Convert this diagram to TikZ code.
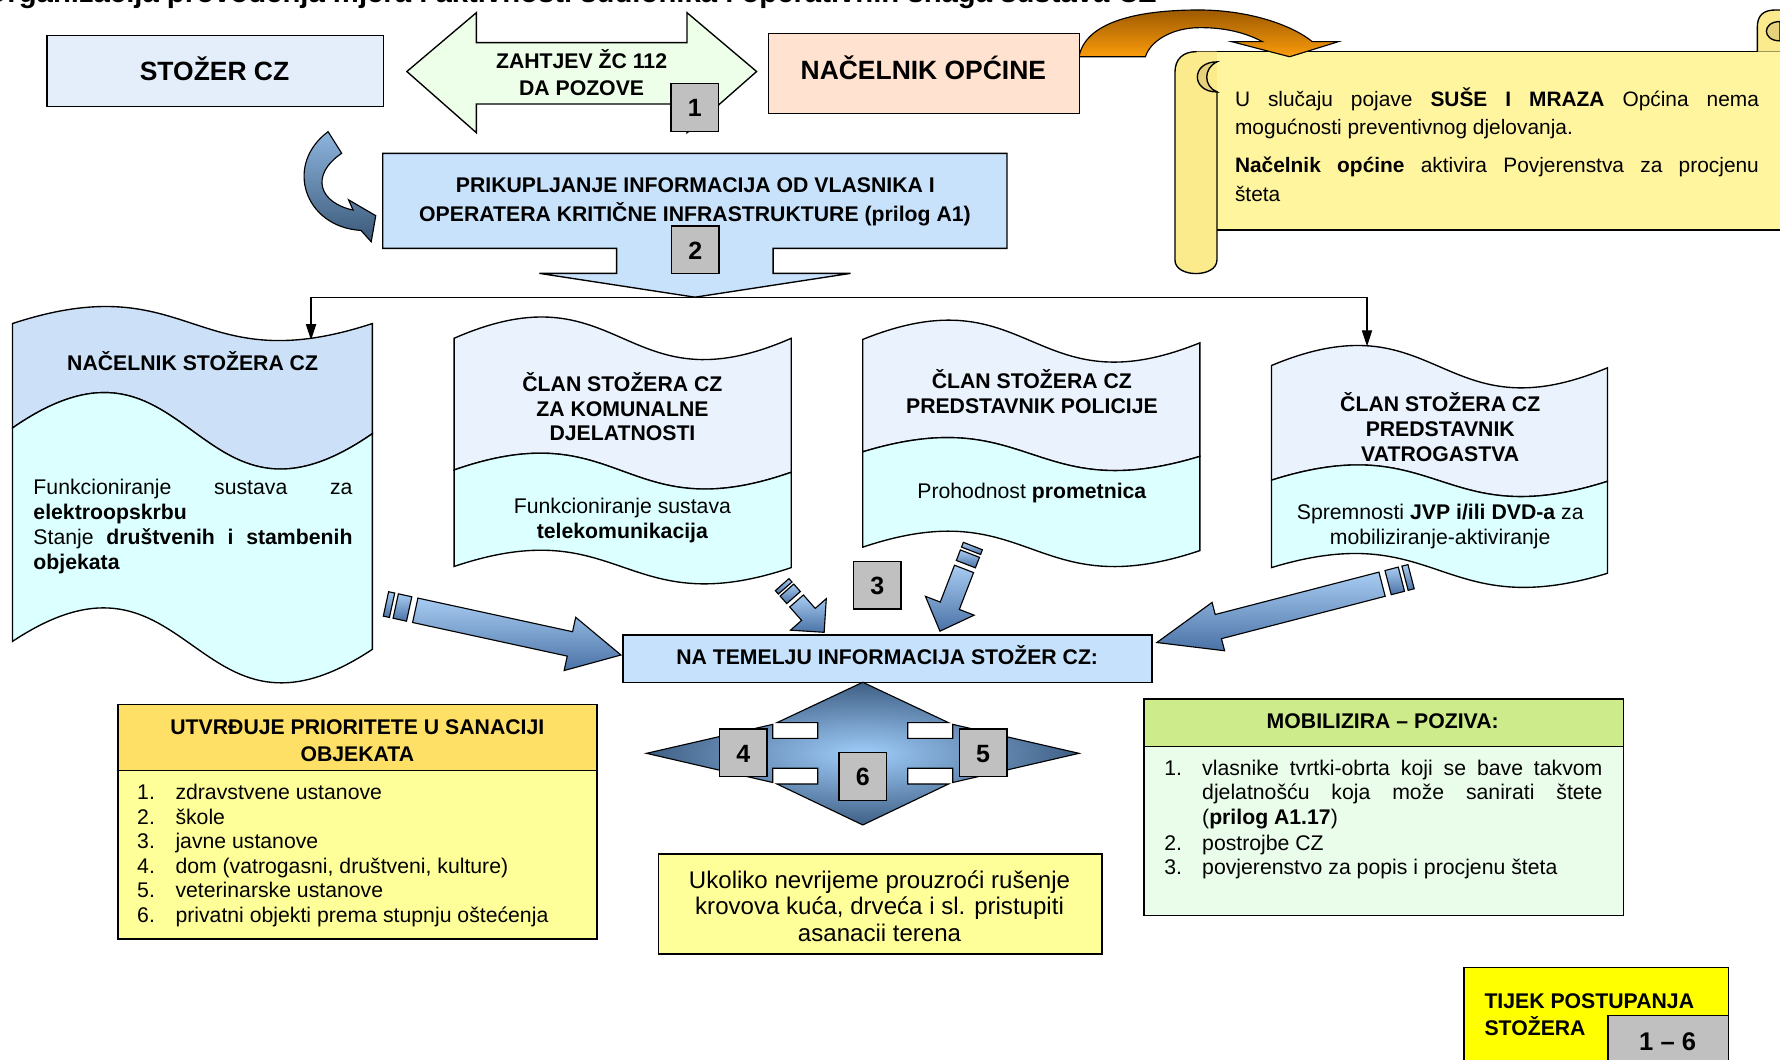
\documentclass[tikz,border=0pt]{standalone}
\usepackage{fontspec}
\setmainfont{Liberation Sans}
\usetikzlibrary{arrows.meta}

\definecolor{stozerbg}{HTML}{E4EEFA}
\definecolor{zahtjevbg}{HTML}{EDFFE8}
\definecolor{nacelnikbg}{HTML}{FFE2D0}
\definecolor{prikbg}{HTML}{C8E2FB}
\definecolor{wavetopA}{HTML}{CCE0F8}
\definecolor{wavetop}{HTML}{E9F2FD}
\definecolor{wavebot}{HTML}{DCFFFF}
\definecolor{numgray}{HTML}{C0C0C0}
\definecolor{temeljbg}{HTML}{C6E1FB}
\definecolor{prioHead}{HTML}{FFE066}
\definecolor{paleyellow}{HTML}{FFFF99}
\definecolor{mobHead}{HTML}{CDEB8B}
\definecolor{mobBody}{HTML}{EAFDEA}
\definecolor{tijekbg}{HTML}{FFFF00}
\definecolor{scrollbg}{HTML}{FFF59E}
\definecolor{scrollroll}{HTML}{FBEB8C}
\definecolor{curlfill}{HTML}{E6D27C}
\definecolor{arrowlight}{HTML}{A8CCF2}
\definecolor{arrowdark}{HTML}{4A72A6}
\definecolor{orangedark}{HTML}{9E5A00}
\definecolor{orangelight}{HTML}{FA9C0C}
\definecolor{quadlight}{HTML}{9FCDFA}
\definecolor{quaddark}{HTML}{3F5F85}
\definecolor{curvelight}{HTML}{8EB5DF}
\definecolor{curvedark}{HTML}{3A5878}

\newcommand\fsTitle{\fontsize{25.8}{30}\selectfont\bfseries}
\newcommand\fsBig{\fontsize{23.3}{28}\selectfont\bfseries}
\newcommand\fsHead{\fontsize{18.7}{22}\selectfont\bfseries}
\newcommand\fsText{\fontsize{18.7}{22}\selectfont}
\newcommand\fsNum{\fontsize{22}{26}\selectfont\bfseries}
\newcommand\fsRange{\fontsize{22.5}{26}\selectfont\bfseries}
\newcommand\fsUk{\fontsize{21.2}{25}\selectfont}
\newcommand\fsScroll{\fontsize{18.4}{26}\selectfont}

% striped block arrow: tail (#1,#2), tip (#3,#4), body half width #5,
% head half width #6, head length #7
\newcommand\blockarrow[7]{%
  \pgfmathsetmacro\baAng{atan2(-((#4)-(#2)),(#3)-(#1))}%
  \pgfmathsetmacro\baLen{veclen((#3)-(#1),(#4)-(#2))}%
  \pgfmathsetmacro\baHB{\baLen-(#7)}%
  \pgfmathsetmacro\baSa{0.5*(#5)}%
  \pgfmathsetmacro\baSb{0.8*(#5)}%
  \pgfmathsetmacro\baSc{1.9*(#5)}%
  \pgfmathsetmacro\baSd{2.4*(#5)}%
  \begin{scope}[shift={(#1,#2)},rotate=\baAng]
    \path[blockarrow] (0,-#5) -- (\baSa,-#5) -- (\baSa,#5) -- (0,#5) -- cycle;
    \path[blockarrow] (\baSb,-#5) -- (\baSc,-#5) -- (\baSc,#5) -- (\baSb,#5) -- cycle;
    \path[blockarrow] (\baSd,-#5) -- (\baHB,-#5) -- (\baHB,-#6) -- (\baLen,0)
      -- (\baHB,#6) -- (\baHB,#5) -- (\baSd,#5) -- cycle;
  \end{scope}}

\begin{document}
\begin{tikzpicture}[x=1pt,y=-1pt,line join=miter,
  txt/.style={inner sep=0pt,anchor=base},
  txtl/.style={inner sep=0pt,anchor=base west},
  outline/.style={draw=black,line width=1.2pt},
  box/.style={outline,inner sep=0pt,anchor=north west},
  numbox/.style={outline,fill=numgray,inner sep=0pt,minimum width=42pt,minimum height=42pt},
  conn/.style={draw=black,line width=1pt},
  blockarrow/.style={draw=black,line width=1pt,top color=arrowlight,bottom color=arrowdark},
]
\useasboundingbox (0,0) rectangle (1568,933);
\fill[white] (0,0) rectangle (1568,933);

% heading, cut by the top edge of the page
\node[inner sep=0pt,anchor=base east] (title) at (1019,2.5)
  {\fsTitle Organizacija provođenja mjera i aktivnosti sudionika i operativnih snaga sustava CZ};

% ---------- top row ----------
\node[box,fill=stozerbg,minimum width=296.5pt,minimum height=62.6pt] (stozer) at (40.7,30.8) {};
\node[txt] (stozerT) at (189,71) {\fsBig STOŽER CZ};

\path[outline,fill=zahtjevbg] (358.4,63) -- (419.6,11.2) -- (419.6,37.6) -- (605.2,37.6)
  -- (605.2,11.2) -- (666.5,63) -- (605.2,116.9) -- (605.2,91.6) -- (419.6,91.6)
  -- (419.6,116.9) -- cycle;
\node[txt] (zahtjev1) at (512.3,60.2) {\fsHead ZAHTJEV ŽC 112};
\node[txt] (zahtjev2) at (512.3,84) {\fsHead DA POZOVE};
\node[numbox] (n1) at (612,94.7) {};
\node[txt] (n1T) at (612,103) {\fsNum 1};

% yellow scroll
\fill[scrollbg] (1052,45.5) rectangle (1580,202.6);
\draw[line width=1.2pt] (1052,45.5) -- (1580,45.5) (1072,202.6) -- (1580,202.6);
\fill[scrollroll] (1072,60) -- (1072,229) .. controls (1072,245) and (1035,245) .. (1035,229)
  -- (1035,64) .. controls (1035,52) and (1042,45.5) .. (1054,45.5) -- (1072,45.5) -- cycle;
\draw[line width=1.2pt] (1072,80) -- (1072,229) .. controls (1072,245) and (1035,245) .. (1035,229)
  -- (1035,64) .. controls (1035,52) and (1042,45.5) .. (1054,45.5);
\path[outline,fill=curlfill] (1072,54.5) .. controls (1049,54.5) and (1049,81) .. (1072,81)
  .. controls (1060,76) and (1060,60) .. (1072,54.5) -- cycle;
\path[outline,fill=scrollroll] (1548,45.5) -- (1548,24) .. controls (1548,13) and (1554,8.8) .. (1564,8.8)
  -- (1580,8.8) -- (1580,45.5);
\path[outline,fill=curlfill] (1568,19) .. controls (1552,19) and (1552,36) .. (1568,36) -- cycle;

\node[txtl] (sc1) at (1087.7,93.4) {\fsScroll\makebox[461.5pt][s]{U slučaju pojave \textbf{SUŠE I MRAZA} Općina nema}};
\node[txtl] (sc2) at (1087.7,118.9) {\fsScroll mogućnosti preventivnog djelovanja.};
\node[txtl] (sc3) at (1087.7,152.1) {\fsScroll\makebox[461.5pt][s]{\textbf{Načelnik općine} aktivira Povjerenstva za procjenu}};
\node[txtl] (sc4) at (1087.7,177.7) {\fsScroll šteta};

% orange bent arrow from the mayor to the scroll
\path[draw=black,line width=1pt,top color=orangedark,bottom color=orangelight]
  (950.5,50) .. controls (956,20) and (1000,8.8) .. (1056,8.8)
  .. controls (1100,8.8) and (1138,22) .. (1156,36.7)
  -- (1179,36.7) -- (1136,50) -- (1085,36.7) -- (1112,36.7)
  .. controls (1096,28) and (1075,23.5) .. (1052,24.5)
  .. controls (1030,26) and (1013,37) .. (1009,50) -- cycle;

\node[box,fill=nacelnikbg,minimum width=274.3pt,minimum height=70.5pt] (nacelnik) at (676.2,28.8) {};
\node[txt] (nacelnikT) at (813.4,70) {\fsBig NAČELNIK OPĆINE};

% ---------- collecting information ----------
\path[draw=black,line width=1pt,top color=curvelight,bottom color=curvedark]
  (289,116) .. controls (250,145) and (268,200) .. (318,203)
  -- (327,213) -- (331,190) -- (307,176) -- (311,185)
  .. controls (282,179) and (272,155) .. (301,135) -- cycle;

\path[outline,fill=prikbg] (337.1,135.1) -- (887,135.1) -- (887,218.8) -- (681,218.8)
  -- (681,240.8) -- (749.3,240.8) -- (612.2,261.8) -- (475.1,240.8) -- (543.2,240.8)
  -- (543.2,218.8) -- (337.1,218.8) -- cycle;
\coordinate (prikTip) at (612.2,261.8);
\node[txt] (prik1) at (612.5,170) {\fsHead PRIKUPLJANJE INFORMACIJA OD VLASNIKA I};
\node[txt] (prik2) at (612.2,195) {\fsHead OPERATERA KRITIČNE INFRASTRUKTURE (prilog A1)};
\node[numbox] (n2) at (612.5,220) {};
\node[txt] (n2T) at (612.5,228.3) {\fsNum 2};

% distribution line
\coordinate (distL) at (274,261.8);
\coordinate (distR) at (1204.2,261.8);
\coordinate (w1in) at (274,299.5);
\coordinate (w4in) at (1204.2,305);
\draw[conn] (distL) -- (prikTip) -- (distR);
\draw[conn,-{Triangle[length=14pt,width=9pt]}] (distL) -- (w1in);
\draw[conn,-{Triangle[length=14pt,width=9pt]}] (distR) -- (w4in);

% ---------- wave 1 ----------
\path[outline,fill=wavetopA] (11,285) .. controls (169.5,233) and (169.5,337) .. (328,285)
  -- (328,382) .. controls (169.5,492) and (169.5,267) .. (11,377) -- cycle;
\path[outline,fill=wavebot] (11,377) .. controls (169.5,267) and (169.5,492) .. (328,382)
  -- (328,572) .. controls (169.5,677) and (169.5,460) .. (11,565) -- cycle;
\node[txt] (w1h) at (169.7,326) {\fsHead NAČELNIK STOŽERA CZ};
\node[txtl] (w1b1) at (29.3,435.5) {\fsText\makebox[281pt][s]{Funkcioniranje sustava za}};
\node[txtl] (w1b2) at (29.3,457.5) {\fsText\textbf{elektroopskrbu}};
\node[txtl] (w1b3) at (29.3,479.5) {\fsText\makebox[281pt][s]{Stanje \textbf{društvenih i stambenih}}};
\node[txtl] (w1b4) at (29.3,501.5) {\fsText\textbf{objekata}};

% ---------- wave 2 ----------
\path[outline,fill=wavetop] (400,298) .. controls (548.5,233) and (548.5,363) .. (697,298)
  -- (697,416) .. controls (548.5,468) and (548.5,362) .. (400,414) -- cycle;
\path[outline,fill=wavebot] (400,414) .. controls (548.5,362) and (548.5,468) .. (697,416)
  -- (697,500) .. controls (548.5,550) and (548.5,449) .. (400,499) -- cycle;
\node[txt] (w2h1) at (548.3,345) {\fsHead ČLAN STOŽERA CZ};
\node[txt] (w2h2) at (548.3,366.5) {\fsHead ZA KOMUNALNE};
\node[txt] (w2h3) at (548.3,388) {\fsHead DJELATNOSTI};
\node[txt] (w2b1) at (548.3,452) {\fsText Funkcioniranje sustava};
\node[txt] (w2b2) at (548.3,474) {\fsText\textbf{telekomunikacija}};

% ---------- wave 3 ----------
\path[outline,fill=wavetop] (760,299) .. controls (908.5,239) and (908.5,362) .. (1057,302)
  -- (1057,402) .. controls (908.5,447) and (908.5,353) .. (760,398) -- cycle;
\path[outline,fill=wavebot] (760,398) .. controls (908.5,353) and (908.5,447) .. (1057,402)
  -- (1057,485) .. controls (908.5,535) and (908.5,432) .. (760,482) -- cycle;
\node[txt] (w3h1) at (909,342) {\fsHead ČLAN STOŽERA CZ};
\node[txt] (w3h2) at (909,364) {\fsHead PREDSTAVNIK POLICIJE};
\node[txt] (w3b1) at (909,439) {\fsText Prohodnost \textbf{prometnica}};

% ---------- wave 4 ----------
\path[outline,fill=wavetop] (1120,322) .. controls (1268,260) and (1268,386) .. (1416,324)
  -- (1416,424) .. controls (1268,471) and (1268,376) .. (1120,423) -- cycle;
\path[outline,fill=wavebot] (1120,423) .. controls (1268,376) and (1268,471) .. (1416,424)
  -- (1416,505) .. controls (1268,550) and (1268,455) .. (1120,500) -- cycle;
\node[txt] (w4h1) at (1268.7,362.6) {\fsHead ČLAN STOŽERA CZ};
\node[txt] (w4h2) at (1268.7,384.7) {\fsHead PREDSTAVNIK};
\node[txt] (w4h3) at (1268.7,406.7) {\fsHead VATROGASTVA};
\node[txt] (w4b1) at (1268.7,458) {\fsText Spremnosti \textbf{JVP i/ili DVD-a} za};
\node[txt] (w4b2) at (1268.7,480) {\fsText mobiliziranje-aktiviranje};

% ---------- arrows into the staff decision ----------
\blockarrow{340}{532}{547}{577}{11}{24}{46}
\blockarrow{689}{515}{726}{557}{8}{21}{21}
\blockarrow{857}{481}{828}{556}{9}{23}{24}
\blockarrow{1243}{508}{1019}{566}{11}{22}{56}

\node[numbox] (n3) at (772.8,515.4) {};
\node[txt] (n3T) at (772.8,523.5) {\fsNum 3};

\node[box,fill=temeljbg,minimum width=466pt,minimum height=41.7pt] (temelj) at (548.2,558.8) {};
\node[txt] (temeljT) at (781.5,585) {\fsHead NA TEMELJU INFORMACIJA STOŽER CZ:};

% four-way arrow
\path[draw=black,line width=1pt,inner color=quadlight,outer color=quaddark]
  (760,601) -- (835.6,636.6) -- (799.6,636.6) -- (799.6,650.4) -- (839.3,650.4) -- (839.3,638.1)
  -- (950.5,663.6) -- (839.3,689.3) -- (839.3,676.8) -- (799.6,676.8) -- (799.6,690.6)
  -- (835.6,690.6) -- (760,726.7) -- (684.4,690.6) -- (720.4,690.6) -- (720.4,676.8)
  -- (680.7,676.8) -- (680.7,689.3) -- (569.5,663.6) -- (680.7,638.1) -- (680.7,650.4)
  -- (720.4,650.4) -- (720.4,636.6) -- (684.4,636.6) -- cycle;
\node[numbox] (n4) at (654.7,663.2) {};
\node[txt] (n4T) at (654.7,671.3) {\fsNum 4};
\node[numbox] (n5) at (866,663.2) {};
\node[txt] (n5T) at (866,671.3) {\fsNum 5};
\node[numbox] (n6) at (760,683.9) {};
\node[txt] (n6T) at (760,692) {\fsNum 6};

% ---------- priorities ----------
\node[box,fill=prioHead,minimum width=422pt,minimum height=58.1pt] (prioH) at (103.2,620.2) {};
\node[box,fill=paleyellow,minimum width=422pt,minimum height=148.3pt] (prioB) at (103.2,678.3) {};
\node[txt] (prioT1) at (314.8,646.6) {\fsHead UTVRĐUJE PRIORITETE U SANACIJI};
\node[txt] (prioT2) at (314.8,671) {\fsHead OBJEKATA};
\node[txtl] (p1n) at (120.7,704.7) {\fsText 1.};
\node[txtl] (p1) at (154.4,704.7) {\fsText zdravstvene ustanove};
\node[txtl] (p2n) at (120.7,726.2) {\fsText 2.};
\node[txtl] (p2) at (154.4,726.2) {\fsText škole};
\node[txtl] (p3n) at (120.7,747.8) {\fsText 3.};
\node[txtl] (p3) at (154.4,747.8) {\fsText javne ustanove};
\node[txtl] (p4n) at (120.7,769.3) {\fsText 4.};
\node[txtl] (p4) at (154.4,769.3) {\fsText dom (vatrogasni, društveni, kulture)};
\node[txtl] (p5n) at (120.7,790.8) {\fsText 5.};
\node[txtl] (p5) at (154.4,790.8) {\fsText veterinarske ustanove};
\node[txtl] (p6n) at (120.7,812.3) {\fsText 6.};
\node[txtl] (p6) at (154.4,812.3) {\fsText privatni objekti prema stupnju oštećenja};

% ---------- storm damage note ----------
\node[box,fill=paleyellow,minimum width=390.4pt,minimum height=88.1pt] (uk) at (579.6,751.7) {};
\node[txt] (uk1) at (774.8,782.5) {\fsUk Ukoliko nevrijeme prouzroći rušenje};
\node[txt] (uk2) at (774.8,806) {\fsUk krovova kuća, drveća i sl. pristupiti};
\node[txt] (uk3) at (774.8,829.5) {\fsUk asanacii terena};

% ---------- mobilisation ----------
\node[box,fill=mobHead,minimum width=422.4pt,minimum height=42pt] (mobH) at (1007,615.2) {};
\node[box,fill=mobBody,minimum width=422.4pt,minimum height=148.8pt] (mobB) at (1007,657.2) {};
\node[txt] (mobT) at (1218,641.6) {\fsHead MOBILIZIRA – POZIVA:};
\node[txtl] (m1n) at (1025.4,682.7) {\fsText 1.};
\node[txtl] (m1a) at (1058.8,682.7) {\fsText\makebox[352.6pt][s]{vlasnike tvrtki-obrta koji se bave takvom}};
\node[txtl] (m1b) at (1058.8,704.7) {\fsText\makebox[352.6pt][s]{djelatnošću koja može sanirati štete}};
\node[txtl] (m1c) at (1058.8,726.7) {\fsText(\textbf{prilog A1.17})};
\node[txtl] (m2n) at (1025.4,748.8) {\fsText 2.};
\node[txtl] (m2) at (1058.8,748.8) {\fsText postrojbe CZ};
\node[txtl] (m3n) at (1025.4,770.5) {\fsText 3.};
\node[txtl] (m3) at (1058.8,770.5) {\fsText povjerenstvo za popis i procjenu šteta};

% ---------- legend ----------
\node[box,fill=tijekbg,minimum width=233pt,minimum height=100pt] (tijek) at (1289,851.5) {};
\node[txtl] (tijek1) at (1307.5,888) {\fsHead TIJEK POSTUPANJA};
\node[txtl] (tijek2) at (1307.5,912) {\fsHead STOŽERA};
\node[box,fill=numgray,minimum width=106pt,minimum height=60pt] (range) at (1416,894) {};
\node[txt] (rangeT) at (1469,925) {\fsRange 1 – 6};
\end{tikzpicture}
\end{document}
